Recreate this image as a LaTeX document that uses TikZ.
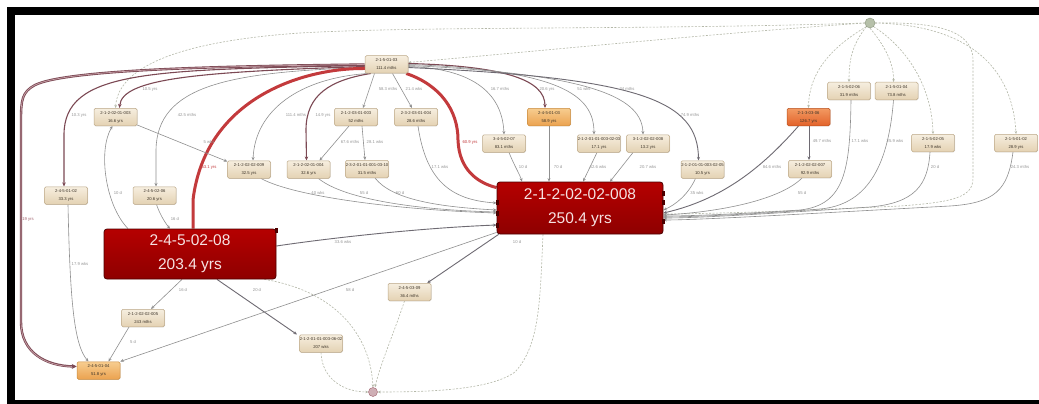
\documentclass[tikz,border=0pt]{standalone}
\usepackage{fontspec}
\setmainfont{Liberation Sans}
\usetikzlibrary{arrows.meta,backgrounds,shadows}

\definecolor{boxtop}{HTML}{F6EEDF}
\definecolor{boxbot}{HTML}{E4D2B3}
\definecolor{boxline}{HTML}{BCA888}
\definecolor{orgtop}{HTML}{F7CD90}
\definecolor{orgbot}{HTML}{EBA24F}
\definecolor{orgline}{HTML}{C98B3E}
\definecolor{hottop}{HTML}{F39A62}
\definecolor{hotbot}{HTML}{E2622A}
\definecolor{hotline}{HTML}{B9521F}
\definecolor{crittop}{HTML}{B50000}
\definecolor{critbot}{HTML}{8E0000}
\definecolor{critline}{HTML}{4D0000}
\definecolor{critfg}{HTML}{F6E2E2}
\definecolor{edgegrey}{HTML}{8F8F8F}
\definecolor{edgedark}{HTML}{6E6A72}
\definecolor{edgemar}{HTML}{7C4954}
\definecolor{edgemarlight}{HTML}{C9A3AB}
\definecolor{edgered}{HTML}{C33A3C}
\definecolor{edgedash}{HTML}{B4B8A8}
\definecolor{lblgrey}{HTML}{959595}
\definecolor{lblmar}{HTML}{A0606C}
\definecolor{txtdark}{HTML}{3C3328}
\definecolor{srcfill}{HTML}{B6C0A9}
\definecolor{srcline}{HTML}{8A967D}

\newcommand\smalltxt{\fontsize{4.2}{8}\selectfont}
\newcommand\labtxt{\fontsize{4.2}{5}\selectfont}
\newcommand\bigtxt{\fontsize{15.5}{24}\selectfont}

\tikzset{
  box/.style={rectangle, rounded corners=1.5pt, draw=boxline, line width=0.5pt,
    top color=boxtop, bottom color=boxbot, minimum width=43pt, minimum height=17.5pt,
    inner sep=0pt, align=center, text=txtdark, font=\smalltxt,
    drop shadow={shadow xshift=0.6pt, shadow yshift=-0.6pt, opacity=0.2}},
  orangebox/.style={box, draw=orgline, top color=orgtop, bottom color=orgbot},
  hotbox/.style={box, draw=hotline, top color=hottop, bottom color=hotbot},
  critbox/.style={rectangle, rounded corners=3pt, draw=critline, line width=0.8pt,
    top color=crittop, bottom color=critbot, inner sep=0pt, align=center,
    text=critfg, font=\bigtxt},
  lab/.style={font=\labtxt, text=lblgrey, inner sep=0pt},
  redlab/.style={lab, text=edgered},
  marlab/.style={lab, text=lblmar},
  gl/.style={draw=edgegrey, line width=0.6pt, -{Stealth[length=3.5pt,width=3pt]}},
  dkl/.style={draw=edgedark, line width=0.9pt, -{Stealth[length=3.5pt,width=3pt]}},
  ml/.style={draw=edgemar, line width=1.1pt, -{Stealth[length=4pt,width=3.5pt]}},
  heavyml/.style={draw=edgemar, line width=2.4pt, -{Stealth[length=5pt,width=5pt]}},
  heavyinner/.style={draw=edgemarlight, line width=0.7pt, shorten >=5pt},
  rl/.style={draw=edgered, line width=3pt},
  dl/.style={draw=edgedash, line width=0.6pt, dash pattern=on 2pt off 1.5pt,
    -{Stealth[length=3pt,width=2.5pt]}},
  port/.style={fill=critline},
}

\begin{document}
\begin{tikzpicture}[x=1pt,y=-1pt]
\useasboundingbox (0,0) rectangle (1039,404);

% tasks
\node[box] (a) at (386.5,64.5) {2-1-5-01-03\\111.4 mths};
\node[box] (b) at (115.5,117) {2-1-2-02-01-003\\16.6 yrs};
\node[box] (c) at (249,169.5) {2-1-2-02-02-009\\32.5 yrs};
\node[box] (d) at (308.5,169.5) {2-1-2-02-01-004\\32.6 yrs};
\node[box] (e) at (356,117) {2-1-2-03-01-003\\52 mths};
\node[box] (f) at (416,117) {2-3-2-03-01-004\\28.6 mths};
\node[box] (g) at (367,169) {2-3-2-01-01-001-03-10\\31.5 mths};
\node[box] (h) at (504,143.5) {3-4-5-02-07\\83.1 mths};
\node[orangebox] (i) at (549,117) {2-4-5-01-03\\58.9 yrs};
\node[box] (j) at (599,143.5) {2-1-2-01-01-003-02-03\\17.1 yrs};
\node[box] (k) at (648,143.5) {3-1-2-02-02-008\\13.2 yrs};
\node[box] (l) at (702.5,169.5) {2-1-2-01-01-003-02-05\\10.5 yrs};
\node[hotbox] (m) at (808.5,117) {2-1-3-03-06\\126.7 yrs};
\node[box] (n) at (810,169) {2-1-2-02-02-007\\92.9 mths};
\node[box] (o) at (849,91) {2-1-5-02-06\\31.9 mths};
\node[box] (p) at (896.5,91) {2-1-5-01-04\\73.8 mths};
\node[box] (q) at (933,143) {2-1-5-02-05\\17.9 wks};
\node[box] (r) at (1016,143) {2-1-5-01-02\\28.9 yrs};
\node[box] (s) at (66,195.5) {2-4-5-01-02\\33.3 yrs};
\node[box] (t) at (154.5,195.5) {2-4-5-02-06\\20.6 yrs};
\node[critbox, minimum width=172pt, minimum height=50pt] (u) at (190,254) {2-4-5-02-08\\203.4 yrs};
\node[critbox, minimum width=166pt, minimum height=52pt] (v) at (580,208) {2-1-2-02-02-008\\250.4 yrs};
\node[box] (w) at (143,318) {2-1-2-02-02-005\\243 mths};
\node[box] (x) at (321,343.5) {2-1-2-01-01-003-06-02\\207 wks};
\node[orangebox] (y) at (98.5,370.5) {2-4-5-01-04\\51.8 yrs};
\node[box] (z) at (409.5,292) {2-4-5-03-09\\36.4 mths};

% start and finish markers
\node[circle, minimum size=10pt, inner sep=0pt, draw=srcline, fill=srcfill] (src) at (870,23) {};
\node[circle, minimum size=9pt, inner sep=0pt, draw=lblmar, fill=lblmar!50] (snk) at (373,392) {};

% connector ports on the critical tasks
\fill[port] (495.5,199.5) rectangle (498.5,204.5);
\fill[port] (495.5,210.5) rectangle (498.5,215.5);
\fill[port] (495.5,222.5) rectangle (498.5,227.5);
\fill[port] (661.5,190.5) rectangle (664.5,195.5);
\fill[port] (661.5,199.5) rectangle (664.5,204.5);
\fill[port] (661.5,218.5) rectangle (664.5,223.5);
\fill[port] (274.5,228) rectangle (277.5,233);

% edge labels
\node[marlab] (l01) at (28,219) {19 yrs};
\node[lab] (l02) at (79,115) {10.3 yrs};
\node[lab] (l03) at (150,89) {10.5 yrs};
\node[lab] (l04) at (187,115) {42.5 mths};
\node[redlab] (l05) at (209,167) {53.1 yrs};
\node[lab] (l06) at (296,115) {111.4 mths};
\node[lab] (l07) at (323,115) {14.9 yrs};
\node[lab] (l08) at (388,89) {58.3 mths};
\node[lab] (l09) at (414,89) {21.4 wks};
\node[lab] (l10) at (500,89) {16.7 mths};
\node[lab] (l11) at (547,89) {20.6 yrs};
\node[lab] (l12) at (584,89) {51 wks};
\node[lab] (l13) at (627,89) {34 mths};
\node[lab] (l14) at (690,115) {74.9 mths};
\node[redlab] (l15) at (470,142) {60.9 yrs};
\node[lab] (l16) at (209,142) {5 wks};
\node[lab] (l17) at (350,142) {67.6 mths};
\node[lab] (l18) at (375,142) {28.1 wks};
\node[lab] (l19) at (118,193) {10 d};
\node[lab] (l20) at (175,219) {16 d};
\node[lab] (l21) at (318,193) {40 wks};
\node[lab] (l22) at (364,193) {55 d};
\node[lab] (l23) at (400,193) {60 d};
\node[lab] (l24) at (440,167) {17.1 wks};
\node[lab] (l25) at (523,167) {10 d};
\node[lab] (l26) at (558,167) {70 d};
\node[lab] (l27) at (598,167) {42.6 wks};
\node[lab] (l28) at (648,167) {20.7 wks};
\node[lab] (l29) at (697,193) {35 wks};
\node[lab] (l30) at (772,167) {84.6 mths};
\node[lab] (l31) at (822,141) {49.7 mths};
\node[lab] (l32) at (802,193) {55 d};
\node[lab] (l33) at (860,141) {17.1 wks};
\node[lab] (l34) at (895,141) {25.9 wks};
\node[lab] (l35) at (935,167) {20 d};
\node[lab] (l36) at (1020,167) {24.3 mths};
\node[lab] (l37) at (80,264) {17.9 wks};
\node[lab] (l38) at (183,290) {16 d};
\node[lab] (l39) at (257,290) {20 d};
\node[lab] (l40) at (133,342) {5 d};
\node[lab] (l41) at (350,290) {58 d};
\node[lab] (l42) at (517,242) {10 d};
\node[lab] (l43) at (343,242) {33.6 wks};

\begin{pgfonlayer}{background}
% frame
\fill[white] (0,0) rectangle (1039,404);
\fill[black] (7,7) rectangle (1039,404);
\fill[white] (15,15) rectangle (1039,400);

% dashed links from the start marker
\draw[dl] (src.west) .. controls (720,33) and (550,50) .. ([yshift=2pt]a.east);
\draw[dl] (src.west) .. controls (650,30) and (420,26) .. (300,33) .. controls (170,42) and (118,70) .. (b.north);
\draw[dl] (src.south west) .. controls (835,45) and (809,70) .. (m.north);
\draw[dl] (src.south west) .. controls (852,45) and (849,60) .. (o.north);
\draw[dl] (src.south) .. controls (880,40) and (894,60) .. ([xshift=-3pt]p.north);
\draw[dl] (src.south east) .. controls (910,50) and (932,90) .. (q.north);
\draw[dl] (src.east) .. controls (960,25) and (1012,60) .. (r.north);
\draw[dl] (src.east) .. controls (930,22) and (973,28) .. (973,60) -- (973,178) .. controls (973,197) and (955,202) .. (900,206) .. controls (800,211) and (700,214) .. ([yshift=-6pt]v.east);

% dashed links into the finish marker
\draw[dl] (x.south) .. controls (322,380) and (345,392) .. (snk.west);
\draw[dl] ([xshift=-12pt]u.south east) .. controls (330,290) and (370,330) .. (snk.north);
\draw[dl] ([xshift=-5pt]z.south) .. controls (395,330) and (380,365) .. ([xshift=2pt]snk.north);
\draw[dl] ([xshift=-37pt]v.south) .. controls (540,300) and (540,345) .. (515,372) .. controls (490,390) and (430,392) .. (snk.east);

% fan out of 2-1-5-01-03, left side
\draw[heavyml] (a.west) .. controls (250,66) and (70,68) .. (35,85) .. controls (22,92) and (21,100) .. (21,120) -- (21,322) .. controls (21,352) and (45,366) .. ([yshift=4pt]y.west);
\draw[heavyinner] (a.west) .. controls (250,66) and (70,68) .. (35,85) .. controls (22,92) and (21,100) .. (21,120) -- (21,322) .. controls (21,352) and (45,366) .. ([yshift=4pt]y.west);
\draw[ml] ([yshift=-1pt]a.west) .. controls (150,70) and (64,70) .. (64,135) -- ([xshift=-2pt]s.north);
\draw[ml] ([yshift=-2pt]a.west) .. controls (200,72) and (122,78) .. ([xshift=4pt]b.north);
\draw[gl] ([yshift=-3pt]a.west) .. controls (230,72) and (157,85) .. (156,150) -- ([xshift=1.5pt]t.north);
\draw[rl] ([yshift=-4pt]a.west) .. controls (300,68) and (205,100) .. (193,200) -- ([xshift=3pt]u.north);
\draw[gl] ([xshift=3pt]a.south west) .. controls (300,78) and (255,110) .. ([xshift=4pt]c.north);
\draw[ml] ([xshift=6pt]a.south west) .. controls (330,80) and (306,95) .. (306,130) -- ([xshift=-2pt]d.north);
\draw[gl] ([xshift=-12pt]a.south) -- ([xshift=7pt]e.north);
\draw[gl] ([xshift=6pt]a.south) -- ([xshift=-4pt]f.north);

% fan out of 2-1-5-01-03, right side
\draw[rl] ([xshift=-2pt]a.south east) .. controls (440,85) and (458,110) .. (458,140) .. controls (459,170) and (478,183) .. ([yshift=-6pt]v.north west);
\draw[gl] ([yshift=-2pt]a.east) .. controls (460,68) and (502,85) .. (h.north);
\draw[ml] ([yshift=1pt]a.east) .. controls (505,66) and (545,80) .. ([xshift=-4pt]i.north);
\draw[gl] (a.east) .. controls (560,70) and (594,95) .. ([xshift=-5pt]j.north);
\draw[gl] ([yshift=-1pt]a.east) .. controls (600,74) and (642,100) .. ([xshift=-5pt]k.north);
\draw[dkl] ([yshift=-3pt]a.east) .. controls (640,78) and (698,100) .. ([xshift=-4pt]l.north);

% links between the upper tasks
\draw[gl] ([yshift=1pt]b.south east) -- ([yshift=-1pt]c.north west);
\draw[gl] ([xshift=-7pt]e.south) -- ([xshift=11pt]d.north);
\draw[gl] ([xshift=6pt]e.south) -- ([xshift=-2pt]g.north);
\draw[dkl] ([xshift=0.5pt]m.south) -- ([xshift=-1pt]n.north);

% into 2-1-2-02-02-008 from the left and top
\draw[gl] ([xshift=12pt]c.south) .. controls (295,197) and (400,210) .. ([yshift=-5pt]v.west);
\draw[gl] ([xshift=10pt]d.south) .. controls (345,200) and (420,210) .. ([yshift=-4pt]v.west);
\draw[gl] ([xshift=8pt]g.south) .. controls (392,200) and (440,207) .. ([yshift=-2pt]v.west);
\draw[gl] ([xshift=2pt]f.south) .. controls (426,180) and (450,200) .. ([yshift=5pt]v.west);
\draw[dkl] ([yshift=8pt]u.east) .. controls (330,238) and (420,228) .. ([yshift=-17pt]v.west);
\draw[gl] ([xshift=5pt]h.south) .. controls (514,165) and (520,175) .. ([xshift=-58pt]v.north);
\draw[gl] (i.south) -- ([xshift=-31pt]v.north);
\draw[gl] ([xshift=-2pt]j.south) -- ([xshift=3pt]v.north);
\draw[gl] ([xshift=-15pt]k.south) -- ([xshift=30pt]v.north);

% into 2-1-2-02-02-008 from the right
\draw[gl] ([xshift=-7pt]l.south) .. controls (688,195) and (675,205) .. ([yshift=-2pt]v.east);
\draw[dkl] ([xshift=-10pt]m.south) .. controls (760,170) and (720,200) .. ([yshift=-5pt]v.east);
\draw[gl] ([xshift=-8pt]n.south) .. controls (780,200) and (720,212) .. ([yshift=-7pt]v.east);
\draw[gl] ([xshift=2pt]o.south) .. controls (850,170) and (845,205) .. (800,210) .. controls (740,214) and (690,216) .. ([yshift=-8pt]v.east);
\draw[gl] ([xshift=-3pt]p.south) .. controls (888,170) and (865,205) .. (820,209) .. controls (760,214) and (690,217) .. ([yshift=-9pt]v.east);
\draw[gl] ([xshift=-3pt]q.south) .. controls (928,185) and (915,203) .. (870,207) .. controls (780,213) and (700,218) .. ([yshift=-10pt]v.east);
\draw[gl] ([xshift=-3pt]r.south) .. controls (1008,190) and (995,203) .. (950,206) .. controls (820,213) and (700,220) .. ([yshift=-12pt]v.east);

% around 2-4-5-02-08
\draw[gl] ([xshift=-62pt]u.north) .. controls (105,205) and (98,150) .. ([xshift=-3pt]b.south);
\draw[gl] ([xshift=2pt]t.south) .. controls (160,215) and (166,224) .. ([xshift=-20pt]u.north);
\draw[gl] ([xshift=2pt]s.south) .. controls (70,300) and (74,345) .. ([xshift=-10pt]y.north);
\draw[gl] ([xshift=-8pt]u.south) -- ([xshift=8pt]w.north);
\draw[dkl] ([xshift=27pt]u.south) -- ([xshift=-24pt]x.north);
\draw[gl] ([xshift=-14pt]w.south) -- ([xshift=10pt]y.north);
\draw[gl] ([yshift=2pt]v.south west) -- (y.north east);
\draw[dkl] ([xshift=2pt]v.south west) -- ([xshift=-4pt]z.north east);
\end{pgfonlayer}
\end{tikzpicture}
\end{document}
